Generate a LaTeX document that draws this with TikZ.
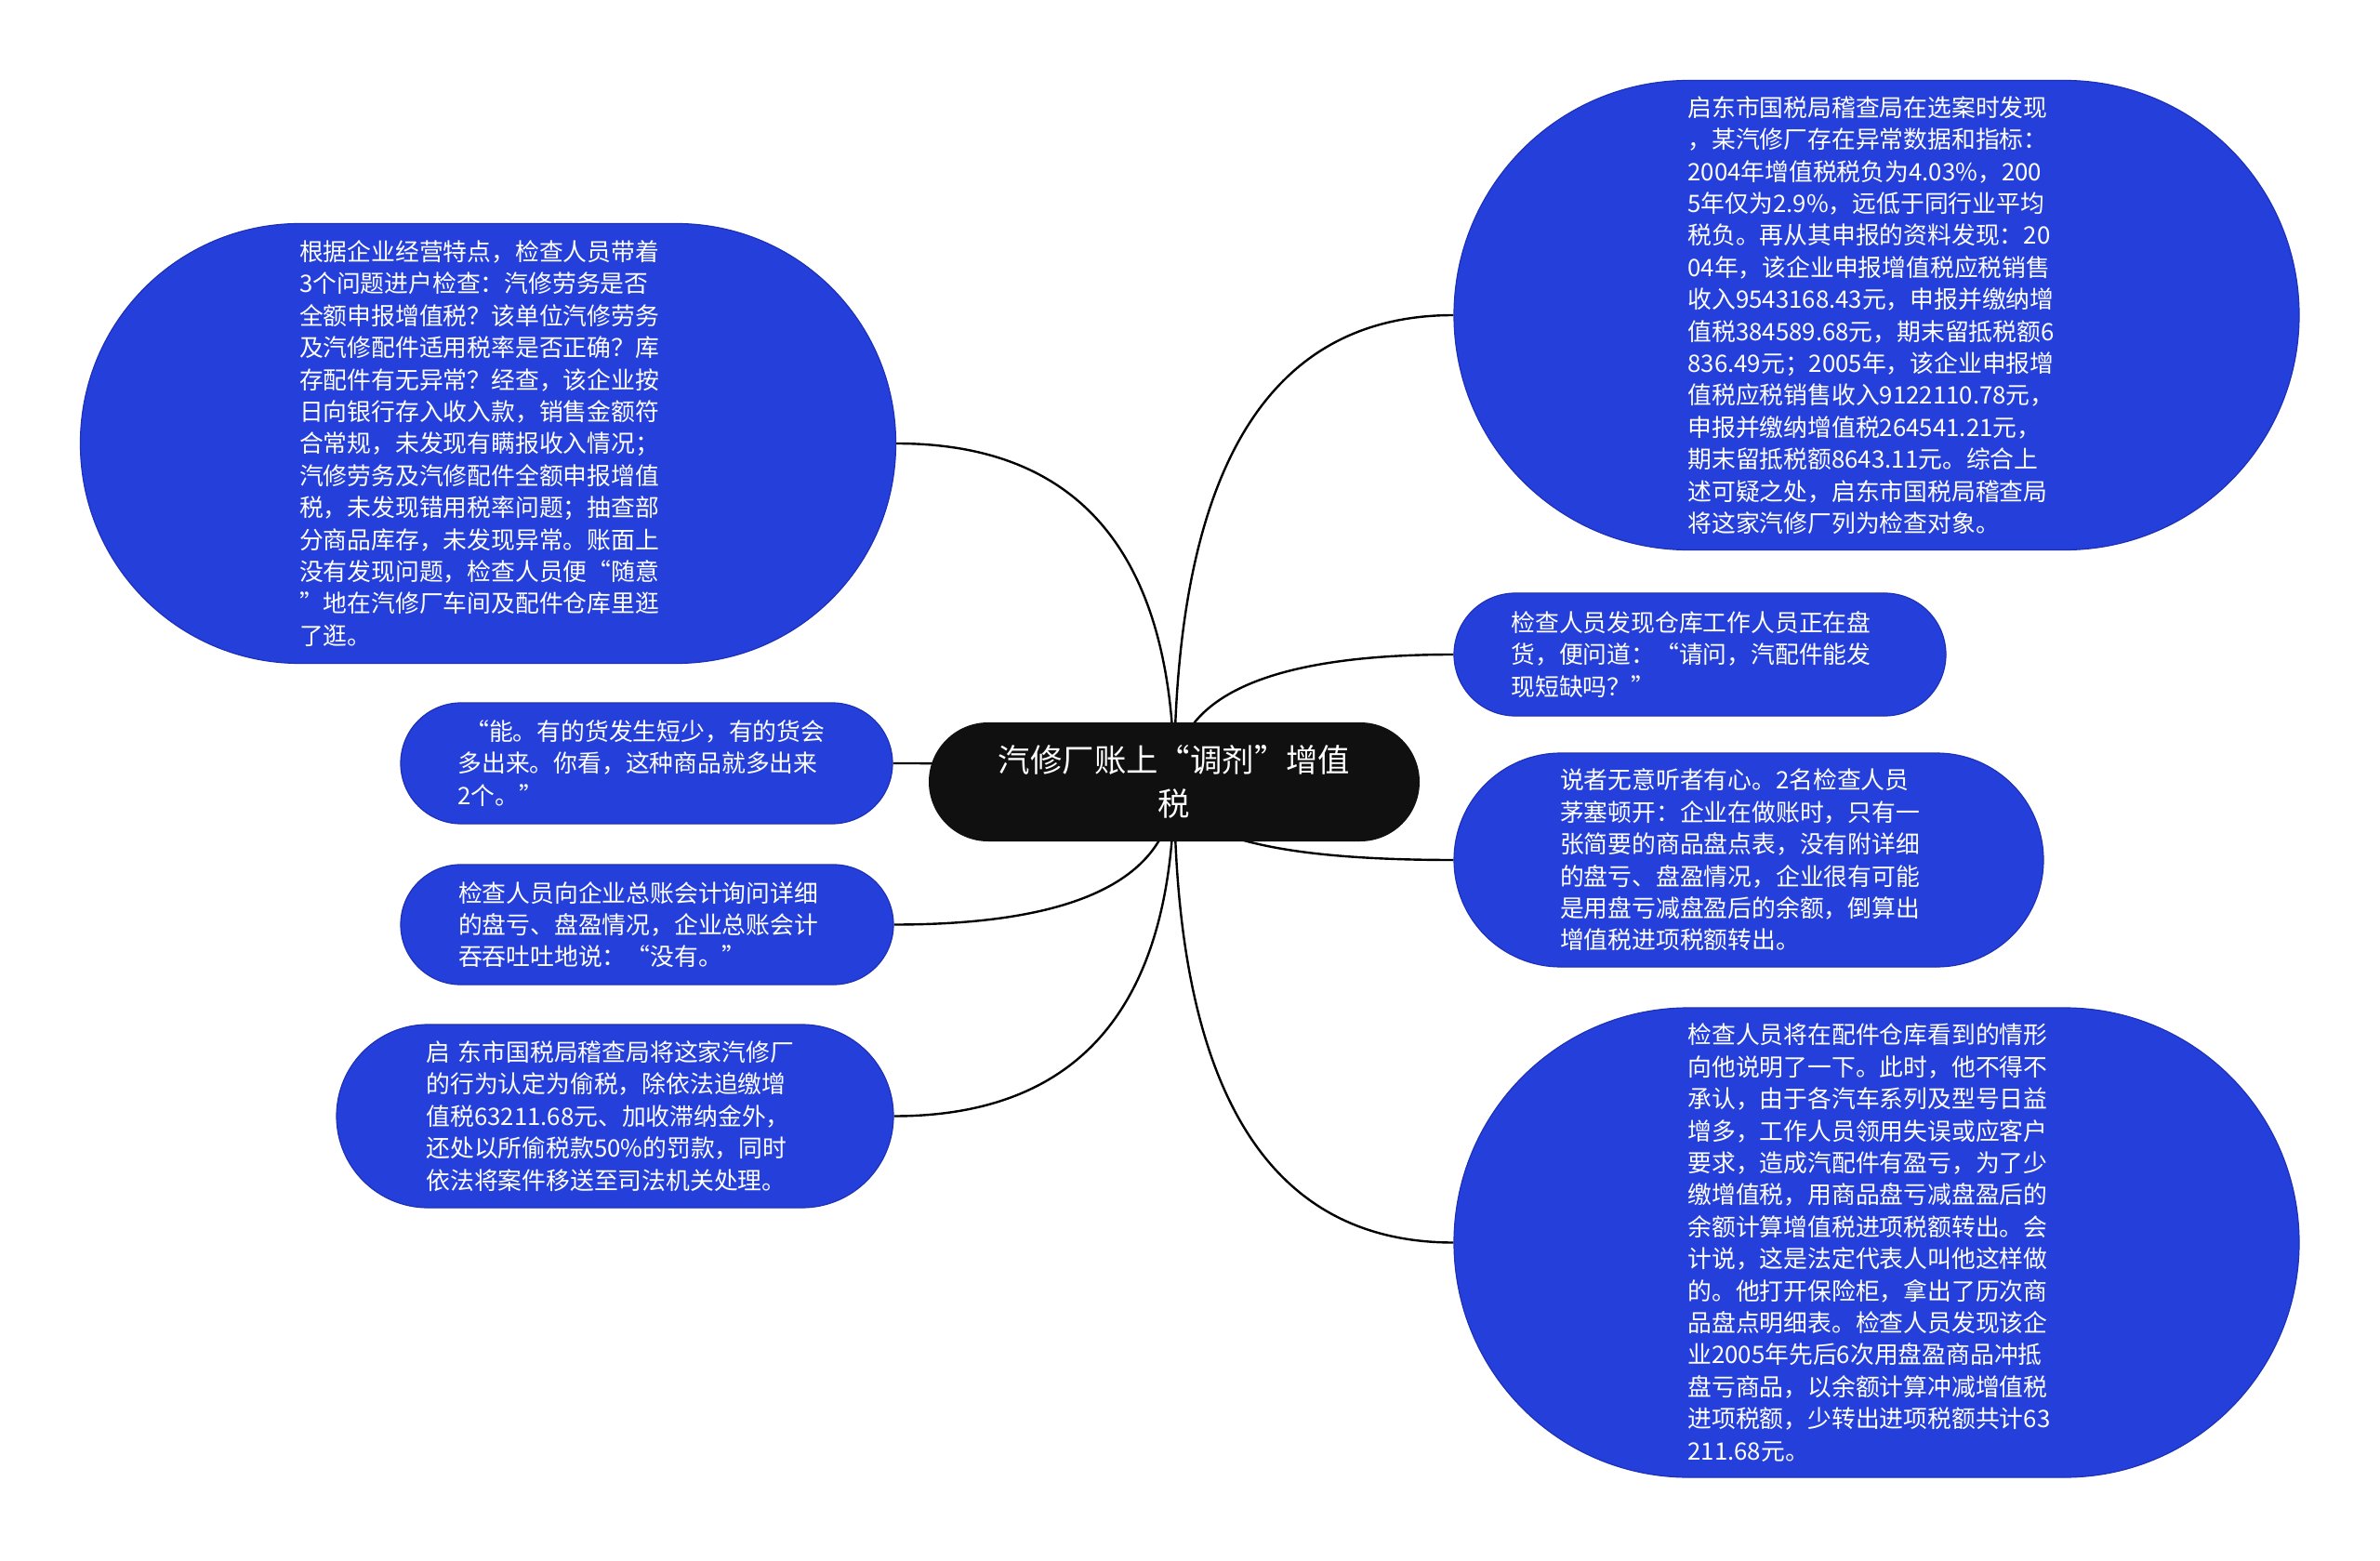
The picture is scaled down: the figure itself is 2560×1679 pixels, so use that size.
\documentclass[tikz,border=0pt]{standalone}
\usepackage{fontspec}
\newfontfamily\cjk{Noto Sans CJK SC}
\usetikzlibrary{calc}
\definecolor{nodeblue}{RGB}{37,64,218}
\definecolor{edgeblue}{RGB}{28,48,185}
\definecolor{rootblack}{RGB}{16,16,16}
\pgfdeclarelayer{bg}
\pgfdeclarelayer{paper}
\pgfsetlayers{paper,bg,main}
\tikzset{
  leaf/.style={draw=edgeblue, line width=0.6pt, fill=nodeblue, text=white, inner sep=0pt,
    align=left, text width=203pt, font=\cjk\fontsize{12.9pt}{17.2pt}\selectfont},
  rootnode/.style={fill=rootblack, text=white, inner sep=0pt, align=center,
    text width=200pt, font=\cjk\fontsize{17.2pt}{23.7pt}\selectfont},
  link/.style={draw=black, line width=1.2pt}
}
\newcommand\linkto[1]{\draw[link] (C.center) .. controls ($(C.center)!0.6667!(C.center |- #1)$) and ($(#1)!0.6667!(C.center |- #1)$) .. (#1);}
\begin{document}
\begin{tikzpicture}[x=0.5pt,y=-0.5pt]
\useasboundingbox (0,0) rectangle (2560,1679);
\begin{pgfonlayer}{paper}
\fill[white] (0,0) rectangle (2560,1679);
\end{pgfonlayer}

\node[rootnode, minimum width=264pt, minimum height=64pt, rounded corners=32pt] (C) at (1263,841)
  {汽修厂账上“调剂”增值\\税};

\node[leaf, minimum width=438.5pt, minimum height=236.5pt, rounded corners=118pt] (L1) at (525,477)
  {根据企业经营特点，检查人员带着\\
   3个问题进户检查：汽修劳务是否\\
   全额申报增值税？该单位汽修劳务\\
   及汽修配件适用税率是否正确？库\\
   存配件有无异常？经查，该企业按\\
   日向银行存入收入款，销售金额符\\
   合常规，未发现有瞒报收入情况；\\
   汽修劳务及汽修配件全额申报增值\\
   税，未发现错用税率问题；抽查部\\
   分商品库存，未发现异常。账面上\\
   没有发现问题，检查人员便“随意\\
   ”地在汽修厂车间及配件仓库里逛\\
   了逛。};

\node[leaf, minimum width=264.5pt, minimum height=65pt, rounded corners=32.5pt] (L2) at (695.5,821)
  {\hspace*{0.3em}“能。有的货发生短少，有的货会\\
   多出来。你看，这种商品就多出来\\
   2个。”};

\node[leaf, minimum width=265pt, minimum height=64.5pt, rounded corners=32.25pt] (L3) at (696,994.5)
  {检查人员向企业总账会计询问详细\\
   的盘亏、盘盈情况，企业总账会计\\
   吞吞吐吐地说：“没有。”};

\node[leaf, minimum width=299.5pt, minimum height=98.5pt, rounded corners=49.25pt] (L4) at (661.5,1200.5)
  {启~东市国税局稽查局将这家汽修厂\\
   的行为认定为偷税，除依法追缴增\\
   值税63211.68元、加收滞纳金外，\\
   还处以所偷税款50\%的罚款，同时\\
   依法将案件移送至司法机关处理。};

\node[leaf, minimum width=454.5pt, minimum height=252.5pt, rounded corners=126.25pt] (R1) at (2018.5,339)
  {启东市国税局稽查局在选案时发现\\
   ，某汽修厂存在异常数据和指标：\\
   2004年增值税税负为4.03\%，200\\
   5年仅为2.9\%，远低于同行业平均\\
   税负。再从其申报的资料发现：20\\
   04年，该企业申报增值税应税销售\\
   收入9543168.43元，申报并缴纳增\\
   值税384589.68元，期末留抵税额6\\
   836.49元；2005年，该企业申报增\\
   值税应税销售收入9122110.78元，\\
   申报并缴纳增值税264541.21元，\\
   期末留抵税额8643.11元。综合上\\
   述可疑之处，启东市国税局稽查局\\
   将这家汽修厂列为检查对象。};

\node[leaf, minimum width=264.5pt, minimum height=66pt, rounded corners=33pt] (R2) at (1828.5,704)
  {检查人员发现仓库工作人员正在盘\\
   货，便问道：“请问，汽配件能发\\
   现短缺吗？”};

\node[leaf, minimum width=317pt, minimum height=115pt, rounded corners=57.5pt] (R3) at (1881,925)
  {说者无意听者有心。2名检查人员\\
   茅塞顿开：企业在做账时，只有一\\
   张简要的商品盘点表，没有附详细\\
   的盘亏、盘盈情况，企业很有可能\\
   是用盘亏减盘盈后的余额，倒算出\\
   增值税进项税额转出。};

\node[leaf, minimum width=454.5pt, minimum height=252.5pt, rounded corners=126.25pt] (R4) at (2018.5,1336.5)
  {检查人员将在配件仓库看到的情形\\
   向他说明了一下。此时，他不得不\\
   承认，由于各汽车系列及型号日益\\
   增多，工作人员领用失误或应客户\\
   要求，造成汽配件有盈亏，为了少\\
   缴增值税，用商品盘亏减盘盈后的\\
   余额计算增值税进项税额转出。会\\
   计说，这是法定代表人叫他这样做\\
   的。他打开保险柜，拿出了历次商\\
   品盘点明细表。检查人员发现该企\\
   业2005年先后6次用盘盈商品冲抵\\
   盘亏商品，以余额计算冲减增值税\\
   进项税额，少转出进项税额共计63\\
   211.68元。};

\begin{pgfonlayer}{bg}
\linkto{L1.east}
\linkto{L2.east}
\linkto{L3.east}
\linkto{L4.east}
\linkto{R1.west}
\linkto{R2.west}
\linkto{R3.west}
\linkto{R4.west}
\end{pgfonlayer}
\end{tikzpicture}
\end{document}
